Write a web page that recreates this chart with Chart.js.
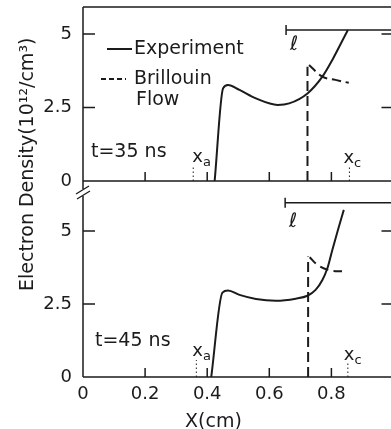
<!DOCTYPE html>
<html>
<head>
<meta charset="utf-8">
<script src="https://cdn.jsdelivr.net/npm/chart.js@4"></script>
<style>
  html, body { margin: 0; padding: 0; background: #fff; overflow: hidden; }
  #wrap { position: relative; width: 400px; height: 436px; }
  #wrap canvas { position: absolute; left: 0; top: 0; }
</style>
</head>
<body>
<div id="wrap">
  <canvas id="panelTop" width="400" height="436"></canvas>
  <canvas id="panelBot" width="400" height="436"></canvas>
</div>
<script>
const INK = "#1b1b1b";
const FONT = "'DejaVu Sans', sans-serif";

// axes
const xTicks = [0, 0.2, 0.4, 0.6, 0.8];
const yTicks = [0, 2.5, 5];

// t = 35 ns
const exp35X = [0.424, 0.451, 0.467, 0.504, 0.557, 0.627, 0.664, 0.723, 0.771, 0.803, 0.853];
const exp35Y = [0, 3.15, 3.27, 3.10, 2.81, 2.59, 2.64, 2.98, 3.55, 4.12, 5.14];
const bril35X = [0.728, 0.771, 0.813, 0.856];
const bril35Y = [3.95, 3.55, 3.44, 3.34];
const edge35 = [0.723, 3.89];      // x, top of the dashed vertical
const ell35 = [0.654, 5.14];       // start x, level of the l bar
const xa35 = [0.355, 0.48];        // x, height of dotted marker
const xc35 = [0.858, 0.48];

// t = 45 ns
const exp45X = [0.413, 0.449, 0.467, 0.504, 0.557, 0.621, 0.685, 0.723, 0.749, 0.771, 0.787, 0.803, 0.821, 0.840];
const exp45Y = [0, 2.89, 2.96, 2.81, 2.67, 2.61, 2.68, 2.78, 2.98, 3.32, 3.72, 4.35, 5.03, 5.72];
const bril45X = [0.730, 0.755, 0.792, 0.840];
const bril45Y = [4.10, 3.84, 3.66, 3.61];
const edge45 = [0.725, 4.12];
const ell45 = [0.651, 5.96];
const xa45 = [0.365, 0.58];
const xc45 = [0.853, 0.48];

const zip = (xs, ys) => xs.map((x, i) => ({ x, y: ys[i] }));

function datasets(expX, expY, brX, brY, edge, ell, xa, xc) {
  return [
    { data: zip(expX, expY), borderColor: INK, borderWidth: 2, pointRadius: 0,
      cubicInterpolationMode: "monotone" },
    { data: [{ x: edge[0], y: 0 }, { x: edge[0], y: edge[1] }], borderColor: INK,
      borderWidth: 2, borderDash: [10, 5], pointRadius: 0, tension: 0 },
    { data: zip(brX, brY), borderColor: INK, borderWidth: 2, borderDash: [9, 5],
      pointRadius: 0, tension: 0.4 },
    { data: [{ x: ell[0], y: ell[1] }, { x: 1, y: ell[1] }], borderColor: INK,
      borderWidth: 1.5, pointStyle: "line", pointRotation: 90, pointRadius: [5, 0],
      pointBorderWidth: 1.5, pointBorderColor: INK, tension: 0 },
    { data: [{ x: xa[0], y: 0 }, { x: xa[0], y: xa[1] }], borderColor: INK,
      borderWidth: 1, borderDash: [1.5, 2.5], pointRadius: 0 },
    { data: [{ x: xc[0], y: 0 }, { x: xc[0], y: xc[1] }], borderColor: INK,
      borderWidth: 1, borderDash: [1.5, 2.5], pointRadius: 0 },
  ];
}

function subLabel(ctx, main, sub, x, y) {
  ctx.font = `18px ${FONT}`;
  ctx.textAlign = "left";
  ctx.textBaseline = "middle";
  ctx.fillText(main, x, y);
  const w = ctx.measureText(main).width;
  ctx.font = `13px ${FONT}`;
  ctx.fillText(sub, x + w, y + 6);
}

// frame, inward ticks and in-panel text
function framePlugin(cfg) {
  return {
    id: "frame",
    afterDraw(chart) {
      const { ctx, chartArea: a, scales: { x, y } } = chart;
      ctx.save();
      ctx.strokeStyle = INK;
      ctx.fillStyle = INK;
      ctx.lineWidth = 1.5;
      ctx.beginPath();
      ctx.moveTo(a.left, a.top + (cfg.axisSkip || 0));
      ctx.lineTo(a.left, a.bottom + (cfg.axisExtra || 0));
      ctx.moveTo(a.left, a.bottom);
      ctx.lineTo(a.right, a.bottom);
      ctx.lineTo(a.right, a.top);
      if (cfg.topBorder) { ctx.moveTo(a.left, a.top); ctx.lineTo(a.right, a.top); }
      yTicks.slice(1).forEach((v) => {
        const py = y.getPixelForValue(v);
        ctx.moveTo(a.left, py); ctx.lineTo(a.left + 12, py);
        ctx.moveTo(a.right, py); ctx.lineTo(a.right - 12, py);
      });
      xTicks.slice(1).forEach((v) => {
        const px = x.getPixelForValue(v);
        ctx.moveTo(px, a.bottom); ctx.lineTo(px, a.bottom - 9);
      });
      ctx.stroke();

      // time label
      ctx.font = `19px ${FONT}`;
      ctx.textAlign = "left";
      ctx.textBaseline = "middle";
      ctx.fillText(cfg.time, cfg.timePos[0], cfg.timePos[1]);

      // xa / xc labels above their markers
      const xaPx = x.getPixelForValue(cfg.xa[0]);
      const xcPx = x.getPixelForValue(cfg.xc[0]);
      const baseY = a.bottom;
      subLabel(ctx, "x", "a", xaPx + cfg.xaOff[0], baseY + cfg.xaOff[1]);
      subLabel(ctx, "x", "c", xcPx + cfg.xcOff[0], baseY + cfg.xcOff[1]);

      // l label under the bar
      ctx.font = `20px ${FONT}`;
      ctx.textAlign = "center";
      ctx.fillText("ℓ", x.getPixelForValue(cfg.ell[0]) + 8, y.getPixelForValue(cfg.ell[1]) + cfg.ellDy);

      if (cfg.legend) {
        ctx.lineWidth = 2;
        ctx.beginPath();
        ctx.moveTo(107, 49); ctx.lineTo(132, 49);
        ctx.stroke();
        ctx.setLineDash([5, 3]);
        ctx.beginPath();
        ctx.moveTo(101, 79); ctx.lineTo(126, 79);
        ctx.stroke();
        ctx.setLineDash([]);
        ctx.font = `19px ${FONT}`;
        ctx.textAlign = "left";
        ctx.fillText("Experiment", 134, 49);
        ctx.fillText("Brillouin", 134, 79);
        ctx.fillText("Flow", 136, 100);
      }

      if (cfg.outer) {
        // axis break
        ctx.lineWidth = 1.3;
        ctx.beginPath();
        ctx.moveTo(76, 194); ctx.lineTo(89, 186);
        ctx.moveTo(77, 199); ctx.lineTo(90, 191);
        ctx.stroke();
        // axis titles
        ctx.font = `19px ${FONT}`;
        ctx.textAlign = "left";
        ctx.textBaseline = "alphabetic";
        ctx.fillText("X(cm)", 185, 427);
        ctx.translate(33, 291);
        ctx.rotate(-Math.PI / 2);
        ctx.fillText("Electron Density(10¹²/cm³)", 0, 0);
      }
      ctx.restore();
    },
  };
}

function panelOptions(cfg) {
  return {
    responsive: false,
    animation: false,
    events: [],
    layout: { padding: cfg.padding },
    plugins: { legend: { display: false }, tooltip: { enabled: false } },
    scales: {
      x: {
        type: "linear", min: 0, max: 1, display: cfg.showX,
        afterBuildTicks: (s) => { s.ticks = xTicks.map((v) => ({ value: v })); },
        afterFit: (s) => { s.height = cfg.showX ? 59 : 0; s.paddingLeft = 0; s.paddingRight = 0; },
        grid: { display: false, drawTicks: false },
        border: { display: false },
        ticks: {
          color: INK, padding: 7, autoSkip: false, maxRotation: 0,
          font: { family: FONT, size: 18 },
          callback: (v) => (v === 0 ? "0" : v.toFixed(1)),
        },
      },
      y: {
        type: "linear", min: 0, max: cfg.yMax,
        afterBuildTicks: (s) => { s.ticks = yTicks.map((v) => ({ value: v })); },
        afterFit: (s) => { s.width = 83; s.paddingTop = 0; s.paddingBottom = 0; },
        grid: { display: false, drawTicks: false },
        border: { display: false },
        ticks: {
          color: INK, padding: 11,
          font: { family: FONT, size: 18 },
          callback: (v) => String(v),
        },
      },
    },
  };
}

new Chart(document.getElementById("panelTop"), {
  type: "line",
  data: { datasets: datasets(exp35X, exp35Y, bril35X, bril35Y, edge35, ell35, xa35, xc35) },
  options: panelOptions({ padding: { top: 7, right: 5, bottom: 255, left: 0 }, showX: false, yMax: 5.92 }),
  plugins: [framePlugin({
    topBorder: true, axisExtra: 8, legend: true, time: "t=35 ns", timePos: [91, 152],
    xa: xa35, xc: xc35, xaOff: [-1, -24], xcOff: [-6, -23], ell: ell35, ellDy: 15,
  })],
});

new Chart(document.getElementById("panelBot"), {
  type: "line",
  data: { datasets: datasets(exp45X, exp45Y, bril45X, bril45Y, edge45, ell45, xa45, xc45) },
  options: panelOptions({ padding: { top: 190, right: 5, bottom: 0, left: 0 }, showX: true, yMax: 6.4 }),
  plugins: [framePlugin({
    topBorder: false, legend: false, outer: true, axisSkip: 6, time: "t=45 ns", timePos: [95, 341],
    xa: xa45, xc: xc45, xaOff: [-4, -26], xcOff: [-4, -22], ell: ell45, ellDy: 19,
  })],
});
</script>
</body>
</html>
